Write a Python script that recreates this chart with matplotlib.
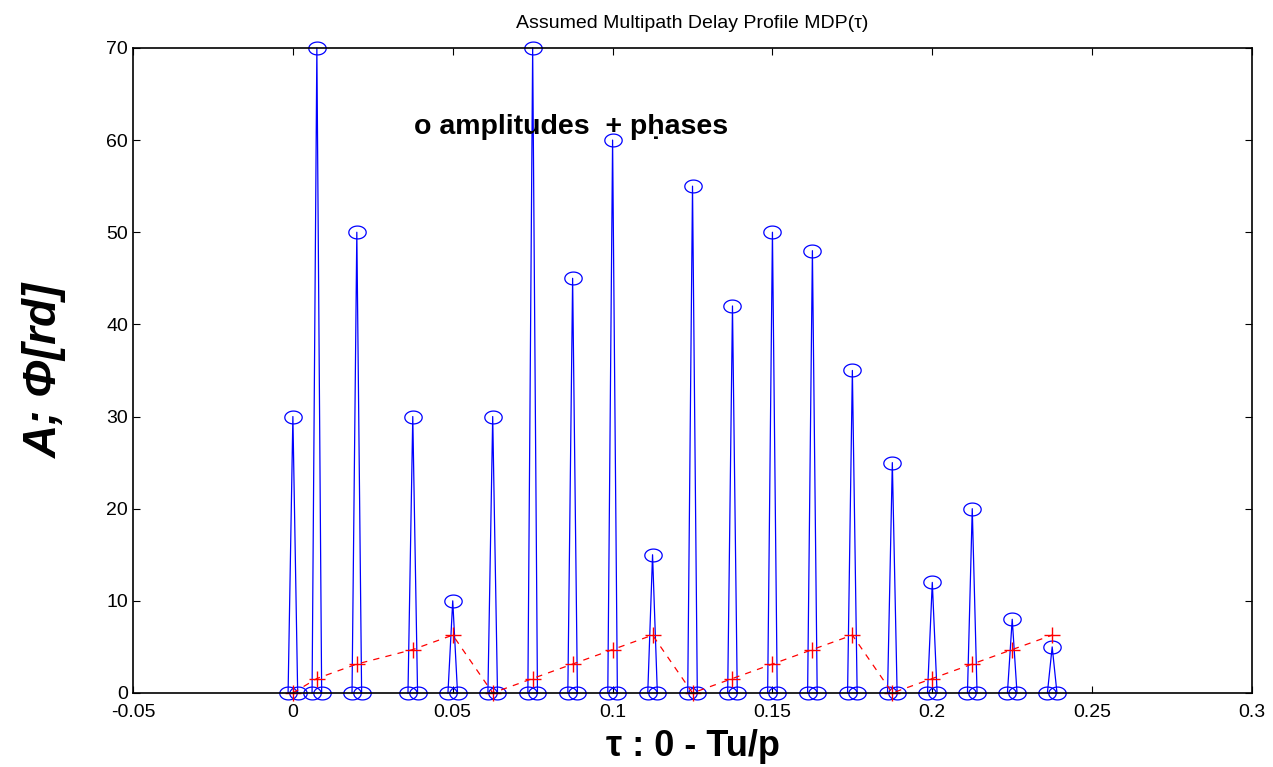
import numpy as np
import matplotlib
matplotlib.use('Agg')
import matplotlib.pyplot as plt
from matplotlib.path import Path

plt.rcParams['font.family'] = ['Liberation Sans', 'DejaVu Sans']

# path delays (Tu/p), amplitudes and phases [rd]
tau = [0, 0.0075, 0.02, 0.0375, 0.05, 0.0625, 0.075, 0.0875, 0.1, 0.1125,
       0.125, 0.1375, 0.15, 0.1625, 0.175, 0.1875, 0.2, 0.2125, 0.225, 0.2375]
amp = [30, 70, 50, 30, 10, 30, 70, 45, 60, 15,
       55, 42, 50, 48, 35, 25, 12, 20, 8, 5]
phase = [0, 1.57, 3.14, 4.71, 6.28, 0, 1.57, 3.14, 4.71, 6.28,
         0, 1.57, 3.14, 4.71, 6.28, 0, 1.57, 3.14, 4.71, 6.28]
xTicks = [-0.05, 0, 0.05, 0.1, 0.15, 0.2, 0.25, 0.3]
xTickLabels = ['-0.05', '0', '0.05', '0.1', '0.15', '0.2', '0.25', '0.3']
yTicks = [0, 10, 20, 30, 40, 50, 60, 70]

halfWidth = 0.0015  # half base of each drawn spike

# stretched circle, the original picture is wider than tall
theta = np.linspace(0, 2 * np.pi, 61)
ellipse = Path(np.column_stack([1.35 * np.cos(theta), np.sin(theta)]), closed=True)

fig = plt.figure(figsize=(12.73, 7.67), dpi=100)
ax = fig.add_axes([0.1045, 0.0965, 0.879, 0.841])

for t, a in zip(tau, amp):
    ax.plot([t - halfWidth, t, t + halfWidth], [0, a, 0], color='#0000ff', lw=0.9,
            marker=ellipse, ms=12.5, mfc='none', mec='#0000ff', mew=0.9, clip_on=False)

ax.plot(tau, phase, color='#ff0000', ls=(0, (5, 5)), lw=0.9, marker='+', ms=12,
        mew=1.0, clip_on=False)

ax.text(0.038, 60.7, 'o amplitudes  + pḥases', fontsize=20.5, fontweight='bold')

ax.set_xlim(-0.05, 0.3)
ax.set_ylim(0, 70)
ax.set_xticks(xTicks)
ax.set_xticklabels(xTickLabels)
ax.set_yticks(yTicks)
ax.tick_params(direction='in', length=5, width=0.8, labelsize=14, top=True, right=True)
ax.tick_params(axis='x', pad=8)
for s in ax.spines.values():
    s.set_linewidth(1.2)

ax.set_title('Assumed Multipath Delay Profile MDP(τ)', fontsize=14, pad=14)
ax.set_xlabel('τ : 0 - Tu/p', fontsize=26, fontweight='bold', labelpad=6)
ax.set_ylabel('A; Φ[rd]', fontsize=33, fontweight='bold', style='italic', labelpad=28)

fig.savefig('out.png', dpi=100)
